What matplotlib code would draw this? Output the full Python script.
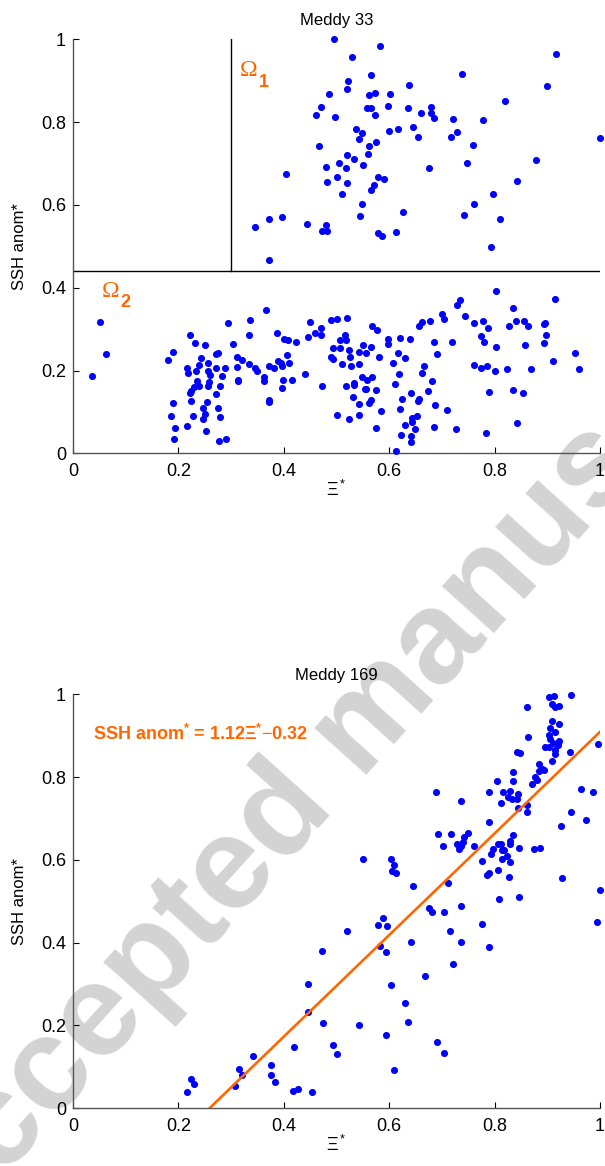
import numpy as np
import matplotlib
matplotlib.use("Agg")
import matplotlib.pyplot as plt

plt.rcParams['font.family'] = ['Liberation Sans', 'DejaVu Sans']
plt.rcParams['mathtext.fontset'] = 'custom'
plt.rcParams['mathtext.rm'] = 'Liberation Sans'
plt.rcParams['mathtext.it'] = 'Liberation Sans:italic'
plt.rcParams['mathtext.bf'] = 'Liberation Sans:bold'

# ---- data ----
# Meddy 33, region Omega_1 (upper)
m33_upper = [
    (0.485, 0.867), (0.471, 0.837), (0.461, 0.816), (0.467, 0.743), (0.481, 0.692),
    (0.483, 0.655), (0.404, 0.674), (0.345, 0.547), (0.372, 0.567), (0.396, 0.572),
    (0.444, 0.555), (0.481, 0.551), (0.473, 0.537), (0.482, 0.537), (0.373, 0.468),
    (0.794, 0.499), (0.496, 1.000), (0.583, 0.985), (0.529, 0.957), (0.916, 0.964),
    (0.565, 0.913), (0.738, 0.915), (0.522, 0.900), (0.521, 0.880), (0.637, 0.890),
    (0.899, 0.888), (0.561, 0.865), (0.573, 0.870), (0.602, 0.868), (0.820, 0.850),
    (0.598, 0.840), (0.635, 0.835), (0.558, 0.833), (0.565, 0.833), (0.574, 0.816),
    (0.498, 0.812), (0.679, 0.837), (0.680, 0.823), (0.685, 0.810), (0.661, 0.821),
    (0.722, 0.808), (0.779, 0.804), (1.000, 0.761), (0.538, 0.784), (0.549, 0.774),
    (0.542, 0.758), (0.599, 0.779), (0.616, 0.784), (0.646, 0.787), (0.655, 0.764),
    (0.717, 0.764), (0.729, 0.777), (0.759, 0.744), (0.576, 0.751), (0.561, 0.743),
    (0.559, 0.723), (0.520, 0.721), (0.504, 0.701), (0.534, 0.710), (0.550, 0.697),
    (0.519, 0.690), (0.676, 0.690), (0.747, 0.702), (0.879, 0.709), (0.501, 0.668),
    (0.520, 0.652), (0.579, 0.667), (0.590, 0.662), (0.572, 0.649), (0.566, 0.635),
    (0.511, 0.627), (0.843, 0.657), (0.797, 0.626), (0.549, 0.602), (0.544, 0.573),
    (0.626, 0.584), (0.762, 0.603), (0.743, 0.576), (0.810, 0.566), (0.579, 0.531),
    (0.586, 0.526), (0.614, 0.534),
]

# Meddy 33, region Omega_2 (lower)
m33_lower = [
    (0.051, 0.318), (0.063, 0.241), (0.037, 0.186), (0.366, 0.345), (0.295, 0.315),
    (0.336, 0.321), (0.334, 0.287), (0.387, 0.291), (0.450, 0.318), (0.460, 0.291),
    (0.471, 0.302), (0.470, 0.286), (0.446, 0.281), (0.401, 0.276), (0.409, 0.274),
    (0.423, 0.270), (0.304, 0.263), (0.222, 0.285), (0.232, 0.266), (0.251, 0.261),
    (0.189, 0.245), (0.180, 0.226), (0.272, 0.241), (0.276, 0.242), (0.243, 0.231),
    (0.312, 0.232), (0.321, 0.226), (0.406, 0.237), (0.334, 0.215), (0.346, 0.207),
    (0.349, 0.200), (0.311, 0.209), (0.289, 0.206), (0.256, 0.219), (0.239, 0.213),
    (0.217, 0.205), (0.218, 0.193), (0.234, 0.198), (0.257, 0.199), (0.260, 0.189),
    (0.272, 0.206), (0.282, 0.187), (0.373, 0.211), (0.381, 0.205), (0.389, 0.223),
    (0.394, 0.217), (0.396, 0.211), (0.410, 0.217), (0.440, 0.192), (0.363, 0.184),
    (0.363, 0.174), (0.313, 0.177), (0.313, 0.174), (0.398, 0.177), (0.415, 0.176),
    (0.397, 0.157), (0.473, 0.163), (0.236, 0.175), (0.229, 0.161), (0.240, 0.163),
    (0.225, 0.150), (0.223, 0.145), (0.259, 0.173), (0.256, 0.163), (0.279, 0.163),
    (0.272, 0.143), (0.373, 0.130), (0.373, 0.124), (0.224, 0.127), (0.254, 0.125),
    (0.247, 0.110), (0.275, 0.109), (0.190, 0.121), (0.187, 0.090), (0.227, 0.089),
    (0.251, 0.095), (0.246, 0.082), (0.280, 0.088), (0.193, 0.062), (0.216, 0.067),
    (0.252, 0.054), (0.192, 0.034), (0.277, 0.031), (0.291, 0.034),
    (0.802, 0.393), (0.914, 0.372), (0.728, 0.359), (0.734, 0.371), (0.836, 0.350),
    (0.700, 0.337), (0.705, 0.325), (0.744, 0.331), (0.762, 0.315), (0.778, 0.320),
    (0.788, 0.303), (0.775, 0.283), (0.780, 0.268), (0.802, 0.258), (0.827, 0.308),
    (0.840, 0.320), (0.856, 0.320), (0.864, 0.307), (0.857, 0.261), (0.893, 0.313),
    (0.896, 0.316), (0.898, 0.287), (0.893, 0.266), (0.911, 0.223), (0.952, 0.242),
    (0.960, 0.204), (0.869, 0.204), (0.824, 0.203), (0.761, 0.213), (0.774, 0.207),
    (0.785, 0.210), (0.800, 0.198), (0.790, 0.147), (0.835, 0.152), (0.854, 0.146),
    (0.843, 0.073), (0.783, 0.050), (0.727, 0.058), (0.709, 0.104), (0.686, 0.064),
    (0.688, 0.117), (0.682, 0.174), (0.674, 0.151), (0.690, 0.239), (0.686, 0.268),
    (0.720, 0.269), (0.677, 0.319), (0.663, 0.318), (0.657, 0.307), (0.666, 0.210),
    (0.663, 0.194), (0.641, 0.145), (0.657, 0.132), (0.655, 0.127), (0.652, 0.090),
    (0.643, 0.086), (0.643, 0.076), (0.630, 0.069), (0.649, 0.058), (0.623, 0.045),
    (0.642, 0.042), (0.641, 0.027), (0.613, 0.005), (0.620, 0.106), (0.624, 0.131),
    (0.611, 0.167), (0.618, 0.192), (0.607, 0.217), (0.617, 0.242), (0.630, 0.230),
    (0.597, 0.276), (0.597, 0.263), (0.621, 0.278), (0.640, 0.277), (0.584, 0.103),
    (0.576, 0.060), (0.575, 0.154), (0.568, 0.308), (0.577, 0.297), (0.580, 0.232),
    (0.566, 0.258), (0.551, 0.262), (0.557, 0.243), (0.542, 0.244), (0.542, 0.216),
    (0.527, 0.210), (0.510, 0.215), (0.525, 0.233), (0.523, 0.250), (0.507, 0.254),
    (0.494, 0.229), (0.489, 0.233), (0.494, 0.254), (0.507, 0.274), (0.518, 0.273),
    (0.517, 0.286), (0.489, 0.322), (0.502, 0.324), (0.521, 0.326), (0.549, 0.185),
    (0.558, 0.178), (0.568, 0.185), (0.554, 0.155), (0.557, 0.155), (0.534, 0.169),
    (0.534, 0.166), (0.518, 0.163), (0.532, 0.136), (0.543, 0.118), (0.562, 0.121),
    (0.566, 0.129), (0.502, 0.092), (0.524, 0.082), (0.543, 0.093),
]

# Meddy 169
m169 = [
    (0.903, 0.994), (0.912, 0.996), (0.945, 0.999), (0.861, 0.968), (0.910, 0.977),
    (0.915, 0.969), (0.922, 0.972), (0.910, 0.936), (0.922, 0.928), (0.906, 0.919),
    (0.915, 0.910), (0.903, 0.902), (0.905, 0.891), (0.922, 0.888), (0.911, 0.882),
    (0.920, 0.878), (0.896, 0.872), (0.903, 0.872), (0.915, 0.865), (0.915, 0.856),
    (0.910, 0.839), (0.864, 0.897), (0.943, 0.860), (0.996, 0.880), (0.843, 0.860),
    (0.849, 0.857), (0.884, 0.831), (0.890, 0.819), (0.884, 0.815), (0.894, 0.817),
    (0.835, 0.812), (0.877, 0.799), (0.881, 0.793), (0.871, 0.784), (0.836, 0.790),
    (0.804, 0.790), (0.689, 0.763), (0.736, 0.741), (0.790, 0.764), (0.816, 0.763),
    (0.829, 0.766), (0.844, 0.760), (0.825, 0.751), (0.834, 0.748), (0.842, 0.748),
    (0.813, 0.738), (0.862, 0.733), (0.845, 0.726), (0.862, 0.716), (0.965, 0.772),
    (0.987, 0.765), (0.945, 0.716), (0.974, 0.696), (0.926, 0.682), (0.789, 0.692),
    (0.693, 0.663), (0.718, 0.663), (0.702, 0.634), (0.728, 0.639), (0.733, 0.626),
    (0.736, 0.634), (0.743, 0.655), (0.750, 0.666), (0.740, 0.644), (0.761, 0.634),
    (0.836, 0.660), (0.830, 0.646), (0.830, 0.638), (0.846, 0.629), (0.807, 0.638),
    (0.812, 0.638), (0.798, 0.627), (0.815, 0.624), (0.818, 0.623), (0.793, 0.613),
    (0.824, 0.610), (0.814, 0.601), (0.830, 0.595), (0.875, 0.626), (0.887, 0.629),
    (0.776, 0.597), (0.806, 0.576), (0.789, 0.569), (0.785, 0.564), (0.827, 0.559),
    (0.928, 0.555), (1.001, 0.527), (0.809, 0.505), (0.847, 0.510), (0.551, 0.602),
    (0.603, 0.601), (0.610, 0.588), (0.605, 0.573), (0.613, 0.569), (0.645, 0.537),
    (0.711, 0.545),
    (0.994, 0.451), (0.676, 0.483), (0.682, 0.475), (0.704, 0.474), (0.737, 0.488),
    (0.777, 0.445), (0.716, 0.428), (0.736, 0.402), (0.790, 0.390), (0.721, 0.349),
    (0.668, 0.320), (0.521, 0.427), (0.578, 0.442), (0.588, 0.460), (0.596, 0.440),
    (0.583, 0.392), (0.594, 0.378), (0.642, 0.401), (0.604, 0.298), (0.630, 0.254),
    (0.635, 0.208), (0.594, 0.178), (0.543, 0.200), (0.494, 0.154), (0.502, 0.132),
    (0.609, 0.092), (0.691, 0.159), (0.705, 0.134),
    (0.473, 0.381), (0.447, 0.299), (0.447, 0.232), (0.475, 0.206), (0.420, 0.147),
    (0.342, 0.126), (0.315, 0.095), (0.320, 0.080), (0.307, 0.055), (0.375, 0.105),
    (0.375, 0.080), (0.384, 0.064), (0.418, 0.042), (0.427, 0.047), (0.454, 0.040),
    (0.225, 0.070), (0.230, 0.058), (0.217, 0.040),
]

# regions boundary in Meddy 33 and fitted line in Meddy 169
ssh_split = 0.44
xi_split = 0.3
fit_slope = 1.227
fit_icpt = -0.318
fit_label = r'SSH anom$^{\mathbf{*}}$ = 1.12$\mathbf{\Xi}^{\mathbf{*}}$$-$0.32'

ticks = [0, 0.2, 0.4, 0.6, 0.8, 1]
tick_labels = ['0', '0.2', '0.4', '0.6', '0.8', '1']

orange = '#FF6600'
blue = '#0000FF'

fig = plt.figure(figsize=(6.05, 11.66), dpi=100)
ax1 = fig.add_axes([0.1205, 0.6112, 0.8711, 0.3551])
ax2 = fig.add_axes([0.1205, 0.0495, 0.8711, 0.3551])

# watermark of the manuscript page
fig.text(-0.101, -0.072, 'Accepted manuscript', rotation=48, fontsize=95,
         fontweight='bold', color='#d3d3d3', ha='left', va='baseline',
         rotation_mode='anchor', zorder=-1)


def style(ax, title):
    ax.set_facecolor('none')
    ax.set_xlim(0, 1)
    ax.set_ylim(0, 1)
    ax.set_xticks(ticks)
    ax.set_xticklabels(tick_labels)
    ax.set_yticks(ticks)
    ax.set_yticklabels(tick_labels)
    ax.tick_params(direction='in', length=4, width=0.8, labelsize=13)
    ax.tick_params(axis='x', pad=7)
    ax.tick_params(axis='y', pad=5)
    for s in ['top', 'right']:
        ax.spines[s].set_visible(False)
    for s in ['left', 'bottom']:
        ax.spines[s].set_color('#555555')
        ax.spines[s].set_linewidth(1.0)
    ax.set_title(title, fontsize=12, pad=10)
    ax.set_xlabel(r'$\Xi^*$', fontsize=13, labelpad=0)
    ax.set_ylabel('SSH anom*', fontsize=12, labelpad=10)


# Meddy 33
u = np.array(m33_upper)
l = np.array(m33_lower)
ax1.scatter(u[:, 0], u[:, 1], s=26, color=blue, linewidths=0, clip_on=False, zorder=3)
ax1.scatter(l[:, 0], l[:, 1], s=26, color=blue, linewidths=0, clip_on=False, zorder=3)
ax1.axhline(ssh_split, color='k', lw=1)
ax1.plot([xi_split, xi_split], [ssh_split, 1], color='k', lw=1)
ax1.text(0.316, 0.912, 'Ω', color=orange, fontsize=17, family='Liberation Serif')
ax1.text(0.352, 0.885, '1', color=orange, fontsize=13, fontweight='bold')
ax1.text(0.054, 0.377, 'Ω', color=orange, fontsize=17, family='Liberation Serif')
ax1.text(0.090, 0.353, '2', color=orange, fontsize=13, fontweight='bold')
style(ax1, 'Meddy 33')

# Meddy 169
b = np.array(m169)
ax2.scatter(b[:, 0], b[:, 1], s=26, color=blue, linewidths=0, clip_on=False, zorder=3)
xf = np.array([-fit_icpt / fit_slope, 1.0])
ax2.plot(xf, fit_slope * xf + fit_icpt, color=orange, lw=1.9, zorder=4)
ax2.text(0.039, 0.89, fit_label, color=orange, fontsize=13, fontweight='bold')
style(ax2, 'Meddy 169')

fig.savefig('out.png', dpi=100)
